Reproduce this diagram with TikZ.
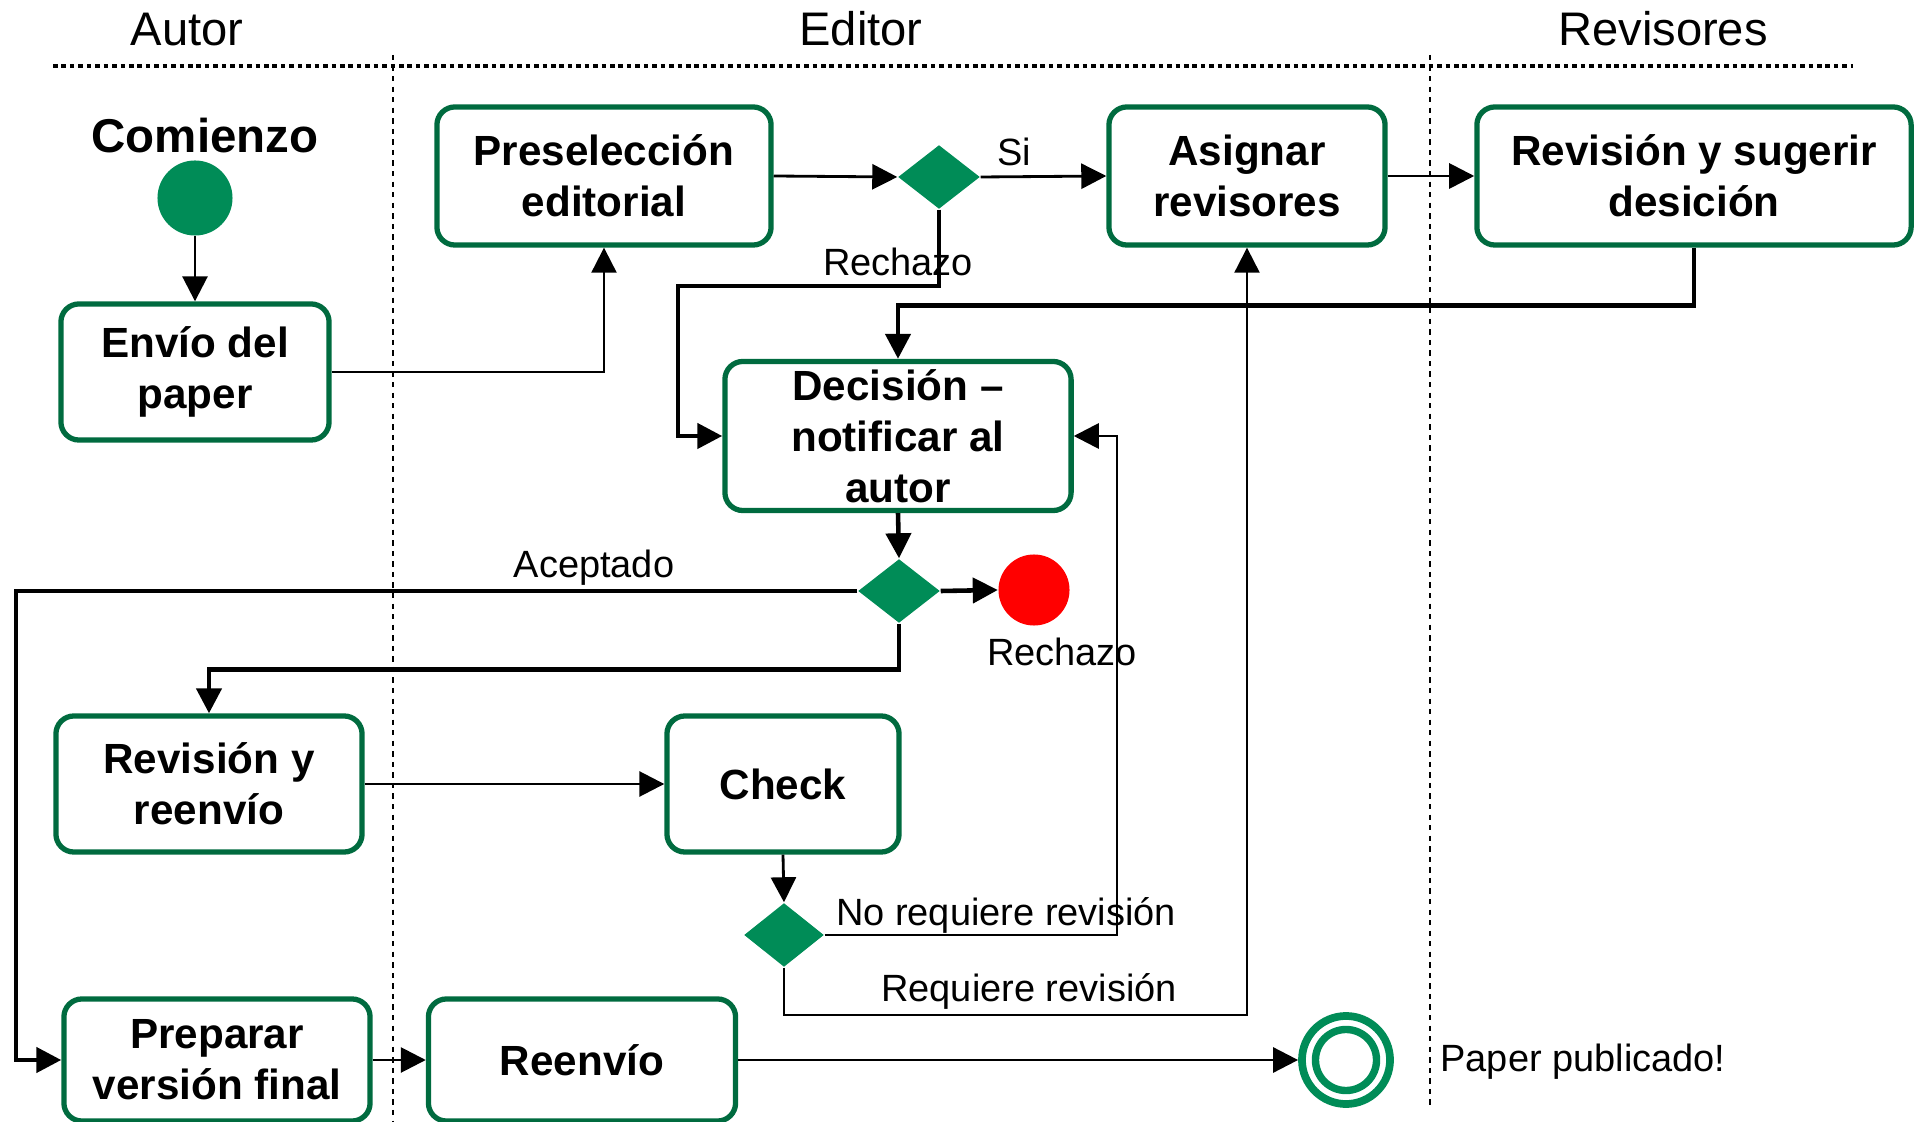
\documentclass[tikz,border=0pt]{standalone}
\usepackage{fontspec}
\setmainfont{Liberation Sans}
\usetikzlibrary{shapes.geometric,arrows.meta}
\definecolor{verdeborde}{RGB}{0,107,63}
\definecolor{verdefondo}{RGB}{0,140,87}

\begin{document}
\begin{tikzpicture}[x=0.01cm,y=-0.01cm,
  actividad/.style={draw=verdeborde, line width=1.5pt, rounded corners=0.18cm,
    fill=white, align=center, inner sep=1pt,
    font=\fontsize{12pt}{14.5pt}\selectfont\bfseries},
  decision/.style={diamond, fill=verdefondo, draw=none, inner sep=0pt,
    minimum width=0.82cm, minimum height=0.64cm},
  flechafina/.style={line width=0.6pt, -{Triangle[length=0.25cm,width=0.25cm]}},
  flecha/.style={line width=0.8pt, -{Triangle[length=0.25cm,width=0.25cm]}},
  flechagruesa/.style={line width=1.3pt, -{Triangle[length=0.25cm,width=0.25cm]}},
  etiqueta/.style={anchor=base, inner sep=0pt, font=\fontsize{10.8pt}{13pt}\selectfont},
  carril/.style={anchor=base, inner sep=0pt, font=\fontsize{13.4pt}{16pt}\selectfont}]
  \useasboundingbox (0,0) rectangle (1915,1122);

  % carriles
  \node[carril] (hAutor) at (187,46) {Autor};
  \node[carril] (hEditor) at (861,46) {Editor};
  \node[carril] (hRevisores) at (1663,46) {Revisores};
  \draw[line width=1.3pt, dash pattern=on 1.3pt off 1.1pt] (53,66) -- (1853,66);
  \draw[line width=0.5pt, dash pattern=on 1.5pt off 1.5pt] (393,55) -- (393,1122);
  \draw[line width=0.5pt, dash pattern=on 1.5pt off 1.5pt] (1430,55) -- (1430,1105);

  % nodos
  \node[font=\fontsize{13.5pt}{16pt}\selectfont\bfseries, anchor=base, inner sep=0pt] (comienzo) at (205,153) {Comienzo};
  \node[circle, fill=verdefondo, minimum size=0.75cm, inner sep=0pt] (inicio) at (195,198) {};
  \node[actividad, minimum width=2.68cm, minimum height=1.36cm] (envio) at (195,372) {Envío del\\paper};
  \node[actividad, minimum width=3.34cm, minimum height=1.38cm] (presel) at (604,176) {Preselección\\editorial};
  \node[decision] (d1) at (939,177) {};
  \node[actividad, minimum width=2.76cm, minimum height=1.38cm] (asignar) at (1247,176) {Asignar\\revisores};
  \node[actividad, minimum width=4.34cm, minimum height=1.38cm] (revsug) at (1694,176) {Revisión y sugerir\\desición};
  \node[actividad, minimum width=3.46cm, minimum height=1.49cm] (notif) at (898,436) {Decisión --\\notificar al\\autor};
  \node[decision] (d2) at (899,591) {};
  \node[circle, fill=red, minimum size=0.71cm, inner sep=0pt] (rechazo) at (1034,590) {};
  \node[actividad, minimum width=3.06cm, minimum height=1.36cm] (revreen) at (209,784) {Revisión y\\reenvío};
  \node[actividad, minimum width=2.32cm, minimum height=1.36cm] (check) at (783,784) {Check};
  \node[decision, minimum width=0.80cm] (d3) at (784,935) {};
  \node[actividad, minimum width=3.06cm, minimum height=1.22cm] (preparar) at (217,1060) {Preparar\\versión final};
  \node[actividad, minimum width=3.07cm, minimum height=1.22cm] (reenvio) at (582,1060) {Reenvío};
  \node[circle, draw=verdefondo, line width=2.2pt, minimum size=0.88cm, inner sep=0pt] (fin) at (1346,1060) {};
  \draw[verdefondo, line width=2.1pt] (fin.center) circle (0.305cm);

  % etiquetas
  \node[etiqueta] (lSi) at (1014,166) {Si};
  \node[etiqueta] (lRech1) at (898,276) {Rechazo};
  \node[etiqueta] (lAcep) at (594,578) {Aceptado};
  \node[etiqueta] (lRech2) at (1062,666) {Rechazo};
  \node[etiqueta] (lNoReq) at (1006,925) {No requiere revisión};
  \node[etiqueta] (lReq) at (1029,1001) {Requiere revisión};
  \node[etiqueta] (lPub) at (1583,1071) {Paper publicado!};

  % conectores
  \draw[flecha] (inicio) -- (envio);
  \draw[flechafina] (envio.east) -| (presel.south);
  \draw[flecha] (presel.east) -- (d1.west);
  \draw[flecha] (d1.east) -- (asignar.west);
  \draw[flechagruesa] (d1.south) |- (678,286) |- (notif.west);
  \draw[flecha] (asignar.east) -- (revsug.west);
  \draw[flechagruesa] (revsug.south) -- ++(0,58) -| (notif.north);
  \draw[flechagruesa] (notif.south) -- (d2.north);
  \draw[flechagruesa] (d2.east) -- (rechazo.west);
  \draw[flechagruesa] (d2.west) -| (16,800) |- (preparar.west);
  \draw[flechagruesa] (d2.south) -- ++(0,46) -| (revreen.north);
  \draw[flecha] (revreen.east) -- (check.west);
  \draw[flecha] (check.south) -- (d3.north);
  \draw[flecha] (d3.east) -| (1117,600) |- (notif.east);
  \draw[flechafina] (d3.south) |- (1247,1015) -- (asignar.south);
  \draw[flecha] (preparar.east) -- (reenvio.west);
  \draw[flecha] (reenvio.east) -- (fin.west);
\end{tikzpicture}
\end{document}
